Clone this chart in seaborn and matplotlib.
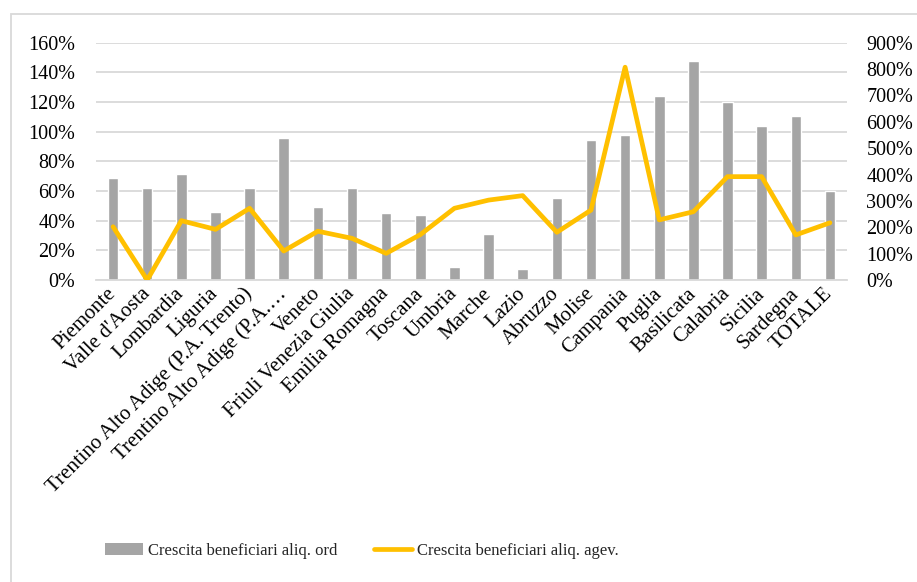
import numpy as np
import pandas as pd
import matplotlib
matplotlib.use("Agg")
import matplotlib.pyplot as plt
from matplotlib.patches import Rectangle, Patch
from matplotlib.lines import Line2D
from matplotlib.ticker import PercentFormatter
import seaborn as sns

categories = ["Piemonte", "Valle d'Aosta", "Lombardia", "Liguria",
              "Trentino Alto Adige (P.A. Trento)", "Trentino Alto Adige (P.A.…",
              "Veneto", "Friuli Venezia Giulia", "Emilia Romagna", "Toscana",
              "Umbria", "Marche", "Lazio", "Abruzzo", "Molise", "Campania",
              "Puglia", "Basilicata", "Calabria", "Sicilia", "Sardegna", "TOTALE"]
ord_growth = [69, 62, 71.5, 46, 62, 95.5, 49, 62, 45, 44,
              9, 31, 7.5, 55, 94.5, 97.5, 124, 147.5, 120, 104, 110.5, 60]
agev_growth = [202, 0, 225, 192, 272, 110, 185, 158, 101, 172,
               272, 303, 320, 181, 265, 807, 228, 259, 392, 392, 171, 217]
left_ticks = [0, 20, 40, 60, 80, 100, 120, 140, 160]
right_ticks = [0, 100, 200, 300, 400, 500, 600, 700, 800, 900]
legend_labels = ["Crescita beneficiari aliq. ord", "Crescita beneficiari aliq. agev."]

df = pd.DataFrame({"cat": categories, "ord": ord_growth, "agev": agev_growth})
df["pos"] = np.arange(len(df))

sns.set_theme(style="white")
plt.rcParams["font.family"] = ["Liberation Serif", "DejaVu Serif"]

W, H = 917, 582
fig = plt.figure(figsize=(W / 100, H / 100), dpi=100)
ax = fig.add_axes([96 / W, 1 - 280 / H, (847 - 96) / W, (280 - 42.7) / H])

bar_color = "#A5A5A5"
line_color = "#FFC000"
fs_y = 14.5
fs_x = 15
fs_leg = 12

sns.barplot(data=df, x="cat", y="ord", color=bar_color, width=0.31,
            saturation=1, ax=ax, zorder=2)
ax.set_ylim(0, 160)
ax.set_yticks(left_ticks)
ax.yaxis.set_major_formatter(PercentFormatter(decimals=0))
ax.grid(axis="y", color="#D9D9D9", linewidth=1.3, zorder=0)
ax.set_axisbelow(True)
ax.set_xlim(-0.5, len(categories) - 0.5)
ax.set_xlabel("")
ax.set_ylabel("")
for s in ["top", "right", "left"]:
    ax.spines[s].set_visible(False)
ax.spines["bottom"].set_color("#D9D9D9")
ax.spines["bottom"].set_linewidth(1.3)
ax.tick_params(axis="y", length=0, pad=15, labelsize=fs_y, labelcolor="black")
ax.tick_params(axis="x", length=0, pad=8, labelsize=fs_x, labelcolor="black")
ax.set_xticks(df["pos"])
ax.set_xticklabels(categories, rotation=45, ha="right", va="center",
                   rotation_mode="anchor")

ax2 = ax.twinx()
sns.lineplot(data=df, x="pos", y="agev", color=line_color, linewidth=3.4,
             ax=ax2, zorder=3, solid_joinstyle="round", solid_capstyle="round")
ax2.set_ylim(0, 900)
ax2.set_yticks(right_ticks)
ax2.yaxis.set_major_formatter(PercentFormatter(decimals=0))
ax2.set_ylabel("")
for s in ["top", "right", "left", "bottom"]:
    ax2.spines[s].set_visible(False)
ax2.tick_params(axis="y", length=0, pad=14, labelsize=fs_y, labelcolor="black")
ax2.grid(False)
ax.set_xlim(-0.5, len(categories) - 0.5)

# chart frame
fig.patches.append(Rectangle((11 / W, -0.1), 1.2, (H - 14) / H + 0.1,
                             transform=fig.transFigure, fill=False,
                             edgecolor="#D9D9D9", linewidth=1.3))

handles = [Patch(facecolor=bar_color, edgecolor="none"),
           Line2D([0], [0], color=line_color, linewidth=3.4, solid_capstyle="round")]
fig.legend(handles, legend_labels, loc="center", ncol=2, frameon=False,
           bbox_to_anchor=(362 / W, (H - 551) / H), fontsize=fs_leg,
           handlelength=2.3, handletextpad=0.3, columnspacing=2.2)

fig.savefig("out.png", dpi=100)
